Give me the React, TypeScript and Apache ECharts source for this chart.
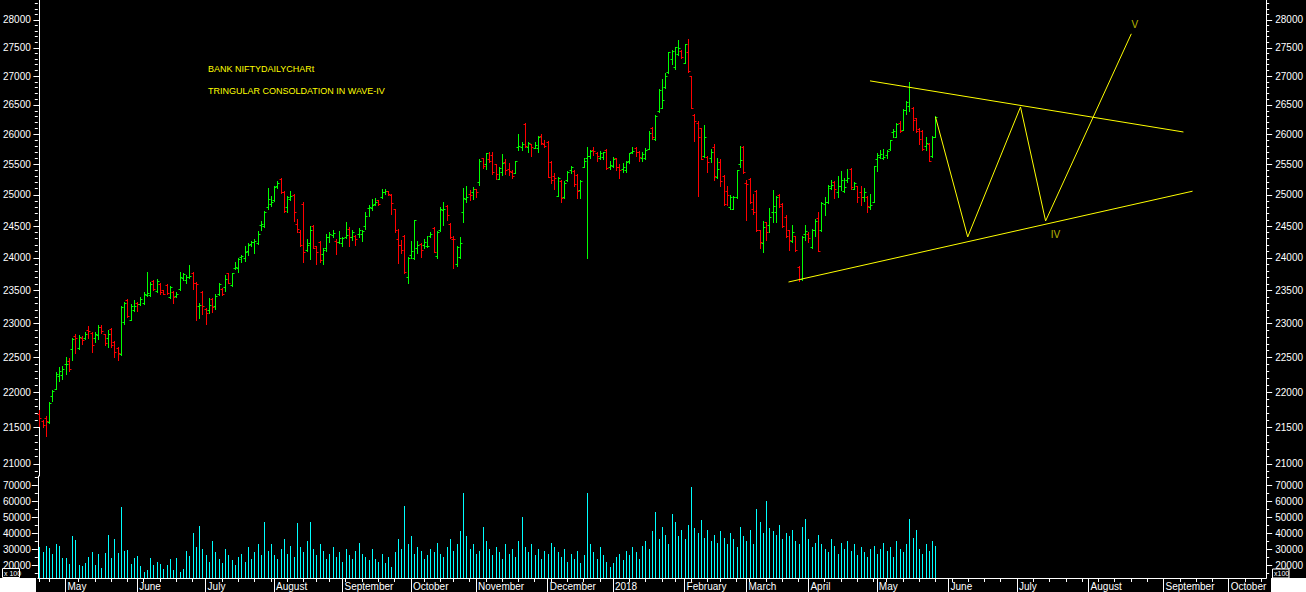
import React, { useEffect, useRef } from "react";
import * as echarts from "echarts";

// ---------------- data ----------------
const START_DATE = "2017-04-19";
const SLOT_COUNT = 377; // trading-day slots on the time axis (data + empty future)
const holidays = [
  "2017-05-01", "2017-06-26", "2017-08-15", "2017-08-25", "2017-10-02", "2017-10-20",
  "2017-12-25", "2018-01-26", "2018-02-13", "2018-03-02", "2018-03-29", "2018-03-30", "2018-05-01",
];
const monthNames = ["January", "February", "March", "April", "May", "June", "July", "August", "September", "October", "November", "December"];

// daily bars: [open, high, low, close]
const ohlc: number[][] = [
  [21690,21748,21523,21630],[21590,21607,21510,21540],[21640,21664,21385,21590],[21575,21860,21565,21840],[21950,22030,21875,22010],
  [22046,22290,22040,22260],[22230,22360,22160,22300],[22250,22370,22190,22330],[22400,22500,22260,22410],[22450,22490,22300,22335],
  [22625,22780,22465,22770],[22810,22840,22560,22790],[22640,22830,22620,22800],[22780,22820,22700,22760],[22790,22870,22770,22850],
  [22905,22970,22790,22890],[22860,22880,22580,22680],[22780,22870,22730,22840],[22830,22980,22770,22950],[22950,22980,22860,22890],
  [22840,22850,22680,22710],[22780,22900,22650,22840],[22920,22930,22660,22680],[22730,22740,22510,22580],[22640,22660,22460,22560],
  [22550,23260,22540,23250],[23030,23330,23000,23310],[23360,23370,23100,23120],[23050,23290,23050,23270],[23200,23350,23190,23270],
  [23310,23330,23190,23300],[23300,23400,23280,23370],[23310,23470,23300,23450],[23430,23780,23410,23460],[23430,23630,23420,23600],
  [23640,23660,23510,23520],[23490,23680,23470,23640],[23600,23620,23440,23470],[23500,23510,23440,23450],[23580,23590,23450,23460],
  [23400,23560,23380,23550],[23470,23490,23310,23400],[23420,23470,23400,23450],[23520,23780,23510,23700],[23690,23760,23660,23750],
  [23660,23740,23610,23700],[23700,23890,23690,23720],[23760,23780,23520,23620],[23610,23630,23050,23600],[23260,23310,23080,23280],
  [23480,23490,23150,23260],[23220,23230,23000,23160],[23200,23380,23160,23280],[23370,23380,23170,23250],[23270,23440,23220,23420],
  [23450,23610,23430,23590],[23520,23530,23430,23450],[23550,23730,23490,23680],[23760,23770,23610,23620],[23580,23770,23570,23760],
  [23850,23940,23830,23860],[23850,24000,23780,23980],[24010,24050,23940,24030],[24000,24180,23950,24090],[24110,24230,24050,24200],
  [24210,24270,24190,24250],[24250,24290,24070,24270],[24230,24420,24210,24380],[24520,24580,24430,24540],[24500,24740,24490,24720],
  [24800,25110,24780,24940],[24860,24990,24820,24880],[24918,25150,24900,25130],[25150,25230,25110,25200],[25260,25280,25030,25040],
  [25050,25060,24730,24740],[24800,24980,24720,24970],[24930,25060,24920,24980],[25000,25010,24580,24720],[24540,24620,24410,24460],
  [24400,24440,24180,24200],[24860,24890,23930,24090],[24130,24290,24110,24200],[24230,24500,23980,24430],[24500,24520,24150,24160],
  [24180,24190,23900,24090],[24250,24270,23930,23960],[24060,24150,23900,24120],[24150,24370,24110,24330],[24330,24400,24250,24370],
  [24360,24440,24330,24390],[24270,24290,24060,24250],[24250,24420,24240,24310],[24230,24330,24190,24310],[24330,24560,24310,24360],
  [24460,24480,24190,24330],[24330,24430,24280,24410],[24340,24360,24200,24300],[24380,24470,24320,24430],[24370,24440,24260,24420],
  [24500,24720,24460,24660],[24790,24840,24660,24800],[24790,24930,24750,24840],[24860,24950,24840,24880],[24910,24920,24840,24850],
  [24960,25100,24950,25050],[25040,25090,25010,25070],[25060,25070,25000,25010],[25000,25010,24700,24870],[24770,24780,24410,24430],
  [24300,24460,23920,24200],[24200,24280,24070,24120],[24340,24360,23760,23780],[23700,24020,23610,24000],[24050,24270,24000,24100],
  [24000,24600,23990,24600],[24150,24270,24080,24200],[24220,24240,24010,24120],[24200,24300,24150,24250],[24180,24340,24170,24190],
  [24340,24400,24320,24370],[24470,24480,24090,24090],[24030,24420,24000,24410],[24430,24800,24420,24780],[24760,24890,24520,24780],
  [24820,24840,24590,24680],[24540,24550,24310,24320],[24300,24340,23840,24290],[23900,24180,23880,24170],[24020,24320,24000,24240],
  [24720,25120,24560,24950],[24940,25140,24880,24960],[25020,25080,24920,25000],[25050,25130,24940,25090],[25090,25100,24970,25050],
  [25210,25580,25160,25550],[25600,25610,25440,25480],[25500,25690,25430,25680],[25590,25710,25540,25560],[25660,25700,25340,25370],
  [25500,25510,25260,25340],[25260,25450,25260,25440],[25380,25670,25330,25530],[25540,25590,25340,25410],[25420,25520,25320,25390],
  [25380,25410,25270,25310],[25360,25560,25350,25550],[25780,26000,25740,25800],[25790,25870,25740,25830],[26180,26190,25780,25800],
  [25780,25870,25700,25850],[25830,25840,25640,25790],[25770,25870,25770,25820],[25770,25970,25700,25950],[25970,26000,25830,25850],
  [25830,25900,25780,25800],[25880,25890,25290,25290],[25540,25550,25200,25240],[25300,25360,25100,25270],[24990,25290,24980,25280],
  [25230,25240,24890,24950],[24970,25220,24950,25200],[25240,25390,25230,25370],[25400,25480,25350,25450],[25390,25400,25150,25170],
  [25330,25340,24950,25060],[25080,25250,24950,25220],[25460,25610,25450,25550],[25610,25780,24000,25630],[25640,25740,25600,25720],
  [25740,25790,25660,25720],[25680,25700,25550,25630],[25610,25720,25580,25680],[25620,25710,25580,25700],[25740,25760,25420,25440],
  [25450,25560,25420,25490],[25480,25620,25460,25590],[25600,25610,25410,25450],[25450,25500,25280,25410],[25420,25520,25380,25460],
  [25400,25560,25380,25540],[25550,25690,25530,25680],[25700,25790,25690,25720],[25770,25780,25630,25710],[25700,25720,25560,25620],
  [25600,25700,25560,25670],[25610,25770,25580,25740],[25760,26060,25750,26030],[26110,26120,25930,25950],[25930,26320,25900,26310],
  [26400,26780,26380,26760],[26450,26950,26450,26580],[26810,27050,26800,27000],[27070,27430,27050,27420],[27300,27460,27210,27450],
  [27160,27520,27130,27510],[27390,27640,27380,27490],[27450,27460,27320,27340],[27230,27570,27230,27560],[27430,27660,27080,27090],
  [27000,27010,26440,26450],[26330,26340,25890,26230],[26200,26230,24990,25950],[26100,26110,25580,25590],[25630,26150,25620,25950],
  [25620,25630,25370,25540],[25600,25760,25540,25700],[25790,25830,25250,25310],[25290,25610,25280,25430],[25540,25590,25140,25230],
  [25310,25330,24840,24850],[25070,25150,24830,25000],[24800,25000,24780,24960],[24770,24980,24770,24970],[24960,25410,24950,25410],
  [25500,25800,25450,25570],[25780,25800,25360,25370],[25200,25250,24600,25180],[25260,25280,24870,24880],[24770,25010,24700,24720],
  [25070,25080,24420,24430],[24430,24440,24150,24250],[24240,24580,24090,24480],[24560,24570,24280,24410],[24520,24790,24410,24650],
  [24720,25080,24560,24820],[24720,24990,24560,24960],[25000,25010,24810,24820],[24860,24870,24480,24500],[24650,24670,24330,24350],
  [24430,24440,24120,24280],[24260,24510,24250,24410],[24340,24350,24110,24120],[23860,23870,23640,23670],[23670,24340,23660,24330],
  [24380,24520,24280,24420],[24380,24400,24250,24310],[24170,24460,24150,24440],[24440,24610,24350,24580],[24630,24720,24100,24110],
  [24430,24880,24420,24870],[24860,24970,24680,24880],[24880,25160,24870,25150],[25120,25250,25100,25160],[25210,25220,24950,25100],
  [25050,25310,24960,25140],[25150,25390,25080,25240],[25070,25270,25040,25130],[25250,25430,25210,25280],[25430,25440,25090,25130],
  [25100,25210,25090,25190],[25140,25150,24880,24970],[25040,25150,24840,24970],[24960,25110,24900,25040],[24970,24990,24720,24820],
  [24800,25010,24770,24830],[24890,25480,24880,25480],[25580,25690,25390,25660],[25620,25740,25600,25670],[25600,25760,25580,25620],
  [25660,25730,25600,25720],[25750,25910,25740,25900],[26040,26090,25950,26050],[25960,26190,25950,26170],[26200,26230,26040,26050],
  [26080,26430,26070,26420],[26420,26570,26340,26550],[26480,26900,26390,26810],[26440,26460,26080,26250],[26270,26280,26040,26050],
  [26090,26100,25840,25920],[26060,26070,25740,25760],[25810,25960,25740,25860],[25830,25850,25550,25560],[25640,25970,25620,25960],
  [25960,26310,25960,26300],
];

const volumes: number[] = [
  31000,28000,32000,30500,27000,33000,32000,24500,24500,20500,38000,35500,20000,19500,21000,25000,28000,20000,27000,18000,
  27500,38500,24500,36000,27500,56000,28500,29500,20500,24500,25500,19500,15500,17000,24500,20000,22000,20500,17500,20000,
  23500,17000,24500,15500,17500,28500,25500,40000,31000,44500,
  30000,26000,22000,35000,28000,24000,21000,30000,26000,23000,20000,25000,27000,22000,31000,24000,28000,33000,26000,47000,
  29000,33000,26000,24000,30000,36000,27000,32000,25000,46000,31000,28000,35000,47000,30000,26000,33000,29000,24000,27000,
  31000,25000,28000,22000,30000,26000,24000,29000,34000,27000,25000,23000,30000,24000,22000,27000,21000,25000,19000,28000,
  36000,30000,57000,33000,38000,27000,31000,29000,24000,26000,30000,28000,34000,27000,25000,31000,36000,29000,33000,41000,
  65000,38000,30000,33000,27000,29000,44000,35000,30000,26000,31000,28000,24000,33000,27000,30000,25000,35000,50000,31000,
  28000,33000,26000,30000,24000,29000,27000,34000,31000,28000,25000,30000,22000,27000,24000,29000,21000,26000,65000,33000,
  28000,24000,31000,26000,22000,19000,21000,25000,27000,23000,29000,26000,31000,28000,24000,32000,35000,30000,41000,53000,
  36000,44000,39000,33000,52000,47000,38000,42000,36000,45000,69000,43000,40000,48000,37000,42000,35000,39000,34000,41000,
  37000,33000,40000,36000,31000,44000,38000,35000,42000,33000,55000,47000,40000,60000,43000,41000,39000,45000,36000,40000,
  38000,42000,35000,33000,44000,49000,36000,31000,34000,39000,33000,30000,28000,36000,32000,27000,34000,30000,35000,29000,
  33000,26000,31000,28000,25000,30000,32000,27000,30000,34000,29000,31000,25000,35000,30000,28000,33000,49000,37000,42000,
  30000,27000,33000,29000,35000,32000,
];

// price and volume axis ticks
const priceLabels = [21000, 21500, 22000, 22500, 23000, 23500, 24000, 24500, 25000, 25500, 26000, 26500, 27000, 27500, 28000];
const priceMinorTicks = [
  20900, 21100, 21200, 21300, 21400, 21600, 21700, 21800, 21900, 22100, 22200, 22300, 22400, 22600, 22700, 22800, 22900,
  23100, 23200, 23300, 23400, 23600, 23700, 23800, 23900, 24100, 24200, 24300, 24400, 24600, 24700, 24800, 24900,
  25100, 25200, 25300, 25400, 25600, 25700, 25800, 25900, 26100, 26200, 26300, 26400, 26600, 26700, 26800, 26900,
  27100, 27200, 27300, 27400, 27600, 27700, 27800, 27900, 28100, 28200, 28300,
];
const volumeLabels = [20000, 30000, 40000, 50000, 60000, 70000];
const volumeMinorTicks = [15000, 25000, 35000, 45000, 55000, 65000, 75000];

// annotations: [slot index, price]
const upperTrend = [[254.9, 26917], [351.1, 26040]];
const lowerTrend = [[229.9, 23628], [353.9, 25060]];
const wavePath = [[275, 26295], [284.9, 24328], [301.1, 26466], [308.8, 24581], [335.1, 27750]];
const waveLabels = [[311.8, 24360, "IV"], [336.2, 27920, "V"]];
const titleLines = ["BANK NIFTYDAILYCHARt", "TRINGULAR CONSOLDATION IN WAVE-IV"];

// ---------------- helpers ----------------
function buildSlots(): string[] {
  const out: string[] = [];
  const [y, m, d] = START_DATE.split("-").map(Number);
  const dt = new Date(Date.UTC(y, m - 1, d));
  while (out.length < SLOT_COUNT) {
    const dow = dt.getUTCDay();
    const s = dt.toISOString().slice(0, 10);
    if (dow !== 0 && dow !== 6 && holidays.indexOf(s) < 0) out.push(s);
    dt.setUTCDate(dt.getUTCDate() + 1);
  }
  return out;
}

const FONT = "'Liberation Sans', Arial, sans-serif";
const PRICE_MAX = 28365;
const PRICE_MIN = 20837;
const VOL_MIN = 11875;
const VOL_MAX = 75625;

export default function App() {
  const ref = useRef<HTMLDivElement>(null);

  useEffect(() => {
    document.body.style.margin = "0";
    document.body.style.background = "#000";
    if (!ref.current) return;
    const chart = echarts.init(ref.current, undefined, { renderer: "svg" });

    const slots = buildSlots();
    const monthStart = slots.map((s, i) => i > 0 && s.slice(5, 7) !== slots[i - 1].slice(5, 7));
    const dows = slots.map((s) => new Date(s + "T00:00:00Z").getUTCDay());
    const weekStart = slots.map((s, i) => i === 0 || dows[i] <= dows[i - 1]);
    const monthLabel = (s: string) => {
      const mo = Number(s.slice(5, 7)) - 1;
      return mo === 0 ? s.slice(0, 4) : monthNames[mo];
    };

    const ohlcData = ohlc.map((b, i) => [i, b[0], b[1], b[2], b[3]]);
    const volData = volumes.map((v, i) => [i, v]);
    const plain = (v: number) => String(Math.round(v));

    const yMajor = (grid: number, pos: "left" | "right", min: number, max: number, vals: number[], type: string) => ({
      type,
      gridIndex: grid,
      position: pos,
      min,
      max,
      axisLine: { show: true, lineStyle: { color: "#ffffff", width: 1 } },
      axisTick: { show: true, length: 6, customValues: vals, lineStyle: { color: "#ffffff", width: 1 } },
      axisLabel: {
        show: true, customValues: vals, formatter: plain, color: "#ffffff", fontSize: 10, fontFamily: FONT,
        margin: pos === "left" ? 7 : 9,
      },
      splitLine: { show: false },
    });
    const yMinor = (grid: number, pos: "left" | "right", min: number, max: number, vals: number[], type: string) => ({
      type,
      gridIndex: grid,
      position: pos,
      min,
      max,
      axisLine: { show: false },
      axisTick: { show: true, length: 3, customValues: vals, lineStyle: { color: "#ffffff", width: 1 } },
      axisLabel: { show: false },
      splitLine: { show: false },
    });

    const option: any = {
      animation: false,
      backgroundColor: "#000000",
      textStyle: { fontFamily: FONT },
      grid: [
        { left: 36, right: 36, top: 0, height: 476 },
        { left: 36, right: 36, top: 476, height: 102 },
      ],
      xAxis: [
        { type: "category", gridIndex: 0, data: slots, boundaryGap: true, show: false },
        { type: "value", gridIndex: 0, min: -0.5, max: SLOT_COUNT - 0.5, show: false },
        {
          type: "category", gridIndex: 1, position: "bottom", offset: 0, data: slots, boundaryGap: true,
          axisLine: { show: true, onZero: false, lineStyle: { color: "#ffffff", width: 1 } },
          axisTick: { show: true, alignWithLabel: true, length: 4, interval: (i: number) => weekStart[i], lineStyle: { color: "#ffffff" } },
          axisLabel: { show: false },
        },
        {
          type: "category", gridIndex: 1, position: "bottom", offset: 0, data: slots, boundaryGap: true,
          axisLine: { show: false, onZero: false },
          axisTick: { show: true, alignWithLabel: true, length: 14, interval: (i: number) => monthStart[i], lineStyle: { color: "#ffffff" } },
          axisLabel: {
            show: true, interval: (i: number) => monthStart[i], formatter: (v: string) => monthLabel(v),
            color: "#ffffff", fontSize: 10, fontFamily: FONT, align: "left", margin: 3, padding: [0, 0, 0, 2],
          },
        },
      ],
      yAxis: [
        yMajor(0, "left", PRICE_MIN, PRICE_MAX, priceLabels, "log"),
        yMinor(0, "left", PRICE_MIN, PRICE_MAX, priceMinorTicks, "log"),
        yMajor(0, "right", PRICE_MIN, PRICE_MAX, priceLabels, "log"),
        yMinor(0, "right", PRICE_MIN, PRICE_MAX, priceMinorTicks, "log"),
        yMajor(1, "left", VOL_MIN, VOL_MAX, volumeLabels, "value"),
        yMinor(1, "left", VOL_MIN, VOL_MAX, volumeMinorTicks, "value"),
        yMajor(1, "right", VOL_MIN, VOL_MAX, volumeLabels, "value"),
        yMinor(1, "right", VOL_MIN, VOL_MAX, volumeMinorTicks, "value"),
      ],
      series: [
        {
          type: "custom",
          name: "BANKNIFTY",
          xAxisIndex: 0,
          yAxisIndex: 0,
          dimensions: ["idx", "open", "high", "low", "close"],
          encode: { x: 0, y: [1, 2, 3, 4] },
          data: ohlcData,
          renderItem: (_p: any, api: any) => {
            const idx = api.value(0);
            const o = api.value(1), h = api.value(2), l = api.value(3), c = api.value(4);
            const pH = api.coord([idx, h]);
            const pL = api.coord([idx, l]);
            const pO = api.coord([idx, o]);
            const pC = api.coord([idx, c]);
            const x = Math.round(pH[0]) + 0.5;
            const color = c > o ? "#00ff00" : "#ff0000";
            const yo = Math.round(pO[1]) + 0.5;
            const yc = Math.round(pC[1]) + 0.5;
            const st = { stroke: color, lineWidth: 1 };
            return {
              type: "group",
              children: [
                { type: "line", shape: { x1: x, y1: Math.round(pH[1]), x2: x, y2: Math.round(pL[1]) + 1 }, style: st },
                { type: "line", shape: { x1: x - 2, y1: yo, x2: x, y2: yo }, style: st },
                { type: "line", shape: { x1: x, y1: yc, x2: x + 2, y2: yc }, style: st },
              ],
            };
          },
        },
        {
          type: "custom",
          name: "Volume",
          xAxisIndex: 2,
          yAxisIndex: 4,
          dimensions: ["idx", "volume"],
          encode: { x: 0, y: 1 },
          data: volData,
          renderItem: (_p: any, api: any) => {
            const idx = api.value(0);
            const top = api.coord([idx, api.value(1)]);
            const base = api.coord([idx, VOL_MIN]);
            const x = Math.round(top[0]) + 0.5;
            return {
              type: "line",
              shape: { x1: x, y1: Math.round(top[1]), x2: x, y2: Math.round(base[1]) },
              style: { stroke: "#00ffff", lineWidth: 1 },
            };
          },
        },
        {
          type: "line", xAxisIndex: 1, yAxisIndex: 0, data: upperTrend, symbol: "none",
          lineStyle: { color: "#ffff00", width: 1 }, z: 5,
        },
        {
          type: "line", xAxisIndex: 1, yAxisIndex: 0, data: lowerTrend, symbol: "none",
          lineStyle: { color: "#ffff00", width: 1 }, z: 5,
        },
        {
          type: "line", xAxisIndex: 1, yAxisIndex: 0, data: wavePath, symbol: "none",
          lineStyle: { color: "#ffff00", width: 1 }, z: 5,
        },
        {
          type: "scatter", xAxisIndex: 1, yAxisIndex: 0, data: waveLabels, symbolSize: 1,
          itemStyle: { color: "rgba(0,0,0,0)" },
          label: { show: true, position: "inside", formatter: (p: any) => p.value[2], color: "#e6e600", fontSize: 10, fontFamily: FONT },
          z: 6,
        },
      ],
      graphic: [
        { type: "rect", shape: { x: 0, y: 578, width: 36, height: 14 }, style: { fill: "#ffffff" }, z: 10 },
        { type: "rect", shape: { x: 1271, y: 578, width: 35, height: 14 }, style: { fill: "#ffffff" }, z: 10 },
        { type: "rect", shape: { x: 2.5, y: 568.5, width: 17, height: 9 }, style: { fill: "#000000", stroke: "#ffffff", lineWidth: 1 }, z: 10 },
        { type: "text", x: 4, y: 569.5, style: { text: "x 100", fill: "#ffffff", fontSize: 7, fontFamily: FONT }, z: 11 },
        { type: "rect", shape: { x: 1272.5, y: 569, width: 16.5, height: 9 }, style: { fill: "#000000", stroke: "#ffffff", lineWidth: 1 }, z: 10 },
        { type: "text", x: 1274, y: 570, style: { text: "x100", fill: "#ffffff", fontSize: 7, fontFamily: FONT }, z: 11 },
        { type: "text", x: 208, y: 64, style: { text: titleLines[0], fill: "#ffff00", fontSize: 9, fontFamily: FONT }, z: 11 },
        { type: "text", x: 208, y: 86, style: { text: titleLines[1], fill: "#ffff00", fontSize: 9, fontFamily: FONT }, z: 11 },
      ],
    };

    chart.setOption(option);
    return () => chart.dispose();
  }, []);

  return <div ref={ref} style={{ width: 1306, height: 592, background: "#000" }} />;
}
